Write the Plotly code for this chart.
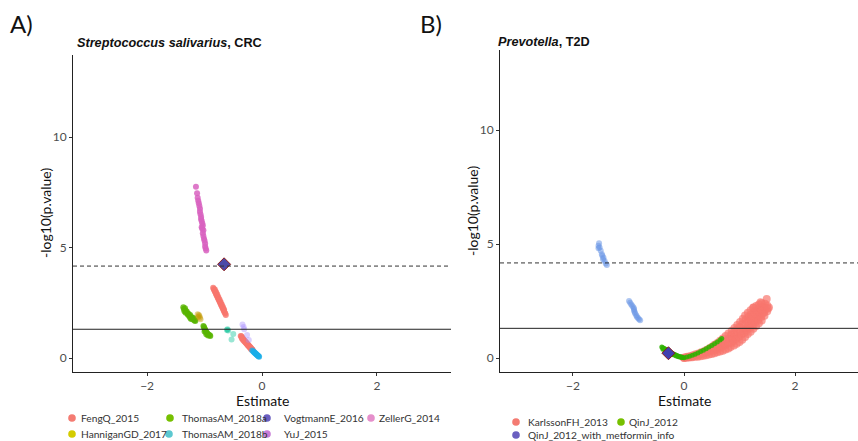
import plotly.graph_objects as go

W, H = 858, 441

# ---------------- DATA: panel A (Streptococcus salivarius, CRC) ----------------
fengq_x = [-0.85, -0.84, -0.83, -0.82, -0.81, -0.80, -0.79, -0.78, -0.77, -0.76, -0.75, -0.74,
           -0.73, -0.72, -0.71, -0.70, -0.69, -0.68, -0.67, -0.66, -0.65, -0.64, -0.63,
           -0.82, -0.80, -0.78, -0.76, -0.74, -0.72, -0.70, -0.68, -0.66,
           -0.37, -0.36, -0.35, -0.34, -0.33, -0.32, -0.31, -0.30, -0.29, -0.28, -0.27,
           -0.26, -0.25, -0.24, -0.23, -0.22, -0.21, -0.20, -0.19, -0.18, -0.17, -0.16,
           -0.35, -0.33, -0.31, -0.29, -0.27, -0.25, -0.23, -0.21, -0.19]
fengq_y = [3.18, 3.12, 3.07, 3.01, 2.96, 2.90, 2.84, 2.79, 2.73, 2.68, 2.62, 2.57,
           2.51, 2.45, 2.40, 2.34, 2.29, 2.23, 2.17, 2.12, 2.06, 2.01, 1.95,
           3.10, 2.99, 2.88, 2.76, 2.65, 2.53, 2.42, 2.31, 2.20,
           1.00, 0.98, 0.94, 0.90, 0.86, 0.83, 0.80, 0.77, 0.74, 0.71, 0.68,
           0.65, 0.62, 0.59, 0.56, 0.53, 0.50, 0.47, 0.44, 0.41, 0.38, 0.36,
           0.88, 0.82, 0.76, 0.70, 0.64, 0.58, 0.52, 0.46, 0.40]

hannigan_x = [-1.12, -1.10, -1.09, -1.08, -1.07, -1.11]
hannigan_y = [1.98, 1.95, 1.90, 1.82, 1.75, 1.86]

thomas_a_x = [-1.37, -1.36, -1.34, -1.33, -1.31, -1.30, -1.28, -1.27, -1.25, -1.23, -1.21, -1.19,
              -1.17, -1.16, -1.33, -1.29, -1.26, -1.22, -1.18, -1.35, -1.24,
              -1.02, -1.01, -1.00, -0.99, -0.98, -0.97, -0.96, -0.95, -0.93, -0.91, -0.90,
              -1.00, -0.97, -0.94]
thomas_a_y = [2.30, 2.22, 2.25, 2.14, 2.10, 2.02, 2.00, 1.93, 1.95, 1.86, 1.82, 1.80,
              1.72, 1.68, 2.05, 1.96, 1.85, 1.76, 1.70, 2.12, 1.78,
              1.45, 1.40, 1.33, 1.28, 1.22, 1.18, 1.14, 1.10, 1.06, 1.03, 1.00,
              1.20, 1.08, 1.02]

thomas_b_x = [-0.61, -0.59, -0.60, -0.50, -0.53]
thomas_b_y = [1.27, 1.24, 1.30, 1.09, 0.84]

vogtmann_x = [-0.17, -0.15, -0.14, -0.13, -0.12, -0.11, -0.10, -0.09, -0.08, -0.07, -0.06, -0.05]
vogtmann_y = [0.34, 0.30, 0.27, 0.25, 0.22, 0.20, 0.17, 0.15, 0.13, 0.10, 0.08, 0.06]

yuj_x = [-0.34, -0.32, -0.31, -0.26, -0.23]
yuj_y = [1.52, 1.40, 1.30, 1.04, 0.81]

zeller_x = [-1.15, -1.13, -1.12, -1.11, -1.10, -1.09, -1.08, -1.08, -1.07, -1.06, -1.06, -1.05,
            -1.04, -1.03, -1.05, -1.04, -1.02, -1.03, -1.02, -1.01, -1.00, -0.99, -0.99, -0.98, -0.97]
zeller_y = [7.75, 7.45, 7.25, 7.12, 7.00, 6.88, 6.75, 6.62, 6.50, 6.38, 6.28, 6.20,
            6.10, 6.00, 5.92, 5.85, 5.78, 5.65, 5.52, 5.40, 5.30, 5.18, 5.05, 4.95, 4.87]

highlight_a_x = [-0.66]
highlight_a_y = [4.24]

# ---------------- DATA: panel B (Prevotella, T2D) ----------------
karlsson_x = [0.00, 0.00, 0.01, 0.05, 0.05, 0.06, 0.10, 0.10, 0.11, 0.15, 0.15, 0.16,
              0.20, 0.20, 0.21, 0.25, 0.25, 0.26, 0.30, 0.30, 0.31, 0.35, 0.35, 0.36,
              0.40, 0.40, 0.41, 0.45, 0.45, 0.46, 0.50, 0.50, 0.51,
              0.55, 0.55, 0.56, 0.55, 0.60, 0.60, 0.61, 0.60, 0.65, 0.65, 0.66, 0.65,
              0.70, 0.70, 0.71, 0.70, 0.75, 0.75, 0.76, 0.75, 0.80, 0.80, 0.81, 0.80,
              0.84, 0.85, 0.86, 0.85, 0.86, 0.90, 0.89, 0.91, 0.90, 0.91,
              0.95, 0.94, 0.96, 0.95, 0.96, 1.00, 0.99, 1.01, 1.00, 1.01,
              1.05, 1.04, 1.06, 1.05, 1.06, 1.10, 1.09, 1.11, 1.10, 1.11, 1.10,
              1.15, 1.14, 1.16, 1.15, 1.16, 1.15, 1.20, 1.19, 1.21, 1.20, 1.21, 1.20,
              1.25, 1.24, 1.26, 1.25, 1.26, 1.25, 1.30, 1.29, 1.31, 1.30, 1.31, 1.30,
              1.35, 1.34, 1.36, 1.35, 1.36, 1.35, 1.40, 1.39, 1.41, 1.40, 1.41, 1.40,
              1.45, 1.44, 1.46, 1.45, 1.46, 1.50, 1.51, 1.50,
              1.49, 1.25, 1.38, 1.53]
karlsson_y = [0.00, 0.01, 0.02, 0.01, 0.03, 0.05, 0.02, 0.05, 0.08, 0.03, 0.07, 0.12,
              0.05, 0.10, 0.16, 0.06, 0.13, 0.20, 0.08, 0.16, 0.25, 0.10, 0.20, 0.30,
              0.12, 0.24, 0.36, 0.15, 0.29, 0.43, 0.18, 0.34, 0.50,
              0.21, 0.33, 0.45, 0.58, 0.25, 0.38, 0.52, 0.66, 0.28, 0.44, 0.60, 0.76,
              0.32, 0.50, 0.68, 0.86, 0.37, 0.57, 0.77, 0.97, 0.42, 0.64, 0.86, 1.08,
              0.48, 0.66, 0.84, 1.02, 1.20, 0.55, 0.74, 0.93, 1.12, 1.32,
              0.62, 0.83, 1.04, 1.25, 1.45, 0.70, 0.92, 1.14, 1.36, 1.58,
              0.80, 1.03, 1.26, 1.49, 1.72, 0.92, 1.11, 1.30, 1.49, 1.68, 1.86,
              1.05, 1.24, 1.42, 1.61, 1.80, 1.98, 1.15, 1.34, 1.53, 1.72, 1.91, 2.10,
              1.28, 1.46, 1.64, 1.84, 2.02, 2.20, 1.40, 1.58, 1.76, 1.93, 2.10, 2.28,
              1.52, 1.69, 1.86, 2.02, 2.19, 2.35, 1.65, 1.80, 1.95, 2.10, 2.25, 2.40,
              1.85, 1.98, 2.11, 2.25, 2.38, 2.05, 2.17, 2.30,
              2.59, 2.22, 2.45, 2.22]

qinj_x = [-0.40, -0.38, -0.36, -0.34, -0.32, -0.30, -0.28, -0.26, -0.24, -0.22, -0.20,
          -0.18, -0.16, -0.14, -0.12, -0.10, -0.08, -0.06, -0.04, -0.02, 0.00,
          -0.38, -0.34, -0.30, -0.26, -0.22, -0.18, -0.14, -0.10, -0.06,
          0.05, 0.10, 0.15, 0.20, 0.25, 0.30, 0.35, 0.40, 0.45, 0.50, 0.55, 0.60, 0.65, 0.68]
qinj_y = [0.48, 0.45, 0.42, 0.39, 0.36, 0.33, 0.30, 0.27, 0.24, 0.21, 0.19,
          0.16, 0.14, 0.12, 0.10, 0.08, 0.06, 0.05, 0.03, 0.02, 0.01,
          0.38, 0.33, 0.28, 0.23, 0.17, 0.13, 0.09, 0.05, 0.03,
          0.04, 0.08, 0.12, 0.17, 0.22, 0.28, 0.34, 0.41, 0.48, 0.55, 0.62, 0.70, 0.79, 0.86]

metformin_x = [-1.53, -1.54, -1.52, -1.54, -1.50, -1.48, -1.47, -1.45, -1.46, -1.43, -1.41, -1.39,
               -0.99, -0.97, -0.95, -0.93, -0.91, -0.90, -0.90, -0.89, -0.88, -0.86, -0.85,
               -0.83, -0.81, -0.79]
metformin_y = [5.03, 4.92, 4.85, 4.81, 4.70, 4.55, 4.48, 4.40, 4.33, 4.25, 4.15, 4.08,
               2.50, 2.42, 2.35, 2.28, 2.22, 2.15, 2.08, 2.02, 1.95, 1.88, 1.81,
               1.75, 1.70, 1.66]

highlight_b_x = [-0.28]
highlight_b_y = [0.21]

# thresholds (-log10 p)
nominal_p_line = 1.301
adjusted_p_line_a = 4.16
adjusted_p_line_b = 4.17

legend_a = ["FengQ_2015", "ThomasAM_2018a", "VogtmannE_2016", "ZellerG_2014",
            "HanniganGD_2017", "ThomasAM_2018b", "YuJ_2015"]
legend_b = ["KarlssonFH_2013", "QinJ_2012", "QinJ_2012_with_metformin_info"]

# ---------------- STYLE ----------------
FONT = "Lato"
TXT = "#333333"
TICK = "#4d4d4d"

fig = go.Figure()

def pts(x, y, color, opacity, xa, ya, size=6, name=""):
    fig.add_trace(go.Scatter(x=x, y=y, mode="markers", name=name, showlegend=False,
                             xaxis=xa, yaxis=ya, hoverinfo="skip",
                             marker=dict(size=size, color=color, opacity=opacity, line=dict(width=0))))

# panel A
pts(thomas_a_x, thomas_a_y, "#58B400", 0.8, "x", "y", name="ThomasAM_2018a")
pts(hannigan_x, hannigan_y, "#C49A00", 0.45, "x", "y", name="HanniganGD_2017")
pts(fengq_x, fengq_y, "#F8766D", 0.8, "x", "y", name="FengQ_2015")
pts(thomas_b_x, thomas_b_y, "#00C094", 0.4, "x", "y", name="ThomasAM_2018b")
pts(yuj_x, yuj_y, "#A58AFF", 0.4, "x", "y", name="YuJ_2015")
pts(vogtmann_x, vogtmann_y, "#1AAEE8", 0.75, "x", "y", name="VogtmannE_2016")
pts(zeller_x, zeller_y, "#D862C0", 0.85, "x", "y", name="ZellerG_2014")
fig.add_trace(go.Scatter(x=highlight_a_x, y=highlight_a_y, mode="markers", showlegend=False,
                         xaxis="x", yaxis="y", hoverinfo="skip",
                         marker=dict(symbol="diamond", size=10, color="#4B4BA8",
                                     line=dict(color="#8B1A1A", width=1))))

# panel B
pts(metformin_x, metformin_y, "#6C98E6", 0.55, "x2", "y2", name="QinJ_2012_with_metformin_info")
pts(karlsson_x, karlsson_y, "#F8766D", 0.7, "x2", "y2", size=8, name="KarlssonFH_2013")
pts(qinj_x, qinj_y, "#2EB200", 0.85, "x2", "y2", size=5, name="QinJ_2012")
fig.add_trace(go.Scatter(x=highlight_b_x, y=highlight_b_y, mode="markers", showlegend=False,
                         xaxis="x2", yaxis="y2", hoverinfo="skip",
                         marker=dict(symbol="diamond", size=10, color="#4040B0",
                                     line=dict(color="#8B1A1A", width=1))))

def px_x(p):
    return p / W

def px_y(p):
    return 1 - p / H

axis_common = dict(showline=True, linecolor="#222222", linewidth=1, ticks="outside",
                   ticklen=3, tickcolor="#333333", showgrid=False, zeroline=False,
                   tickfont=dict(family=FONT, size=12, color=TICK))

fig.update_layout(
    width=W, height=H, margin=dict(l=0, r=0, t=0, b=0),
    paper_bgcolor="white", plot_bgcolor="white", showlegend=False,
    xaxis=dict(domain=[px_x(73), px_x(451)], range=[-3.29, 3.29], anchor="y",
               tickvals=[-2, 0, 2], **axis_common),
    yaxis=dict(domain=[px_y(372), px_y(55)], range=[-0.633, 13.71], anchor="x",
               tickvals=[0, 5, 10], **axis_common),
    xaxis2=dict(domain=[px_x(500), 1.0], range=[-3.315, 3.135], anchor="y2",
                tickvals=[-2, 0, 2], **axis_common),
    yaxis2=dict(domain=[px_y(372), px_y(50)], range=[-0.614, 13.51], anchor="x2",
                tickvals=[0, 5, 10], **axis_common),
)

shapes = []
for xr, yr, dash_y in (("x", "y", adjusted_p_line_a), ("x2", "y2", adjusted_p_line_b)):
    shapes.append(dict(type="line", xref=f"{xr} domain", yref=yr, x0=0, x1=1,
                       y0=nominal_p_line, y1=nominal_p_line, line=dict(color="#222222", width=1)))
    shapes.append(dict(type="line", xref=f"{xr} domain", yref=yr, x0=0, x1=1,
                       y0=dash_y, y1=dash_y, line=dict(color="#333333", width=1, dash="4px,3px")))

annotations = []

def text(x, y, s, size, xanchor="left", angle=0, color=TXT, family=FONT):
    annotations.append(dict(x=px_x(x), y=px_y(y), xref="paper", yref="paper", text=s,
                            showarrow=False, xanchor=xanchor, yanchor="middle", textangle=angle,
                            font=dict(family=family, size=size, color=color)))

text(8, 24, "A)", 24, color="#111111")
text(418, 24, "B)", 24, color="#111111")
text(75, 43, "<b><i>Streptococcus salivarius</i>, CRC</b>", 12.7, color="#111111", family="Liberation Sans")
text(496, 42, "<b><i>Prevotella</i>, T2D</b>", 12.7, color="#111111", family="Liberation Sans")
text(262, 400, "Estimate", 14, xanchor="center", color="#111111")
text(684, 400, "Estimate", 14, xanchor="center", color="#111111")
text(45, 213, "-log10(p.value)", 14, xanchor="center", angle=-90, color="#111111")
text(472, 211, "-log10(p.value)", 14, xanchor="center", angle=-90, color="#111111")

# manual legends
legend_a_colors = ["#F47B72", "#76C000", "#6A5FC0", "#E58FCB", "#D4CC00", "#5CC8D0", "#C77CD6"]
legend_a_pos = [(72, 418, 79), (170, 418, 180), (267, 418, 282), (371, 418, 377),
                (72, 434, 79), (169, 434, 180), (267, 434, 282)]
legend_b_colors = ["#F47B72", "#76C000", "#6A5FC0"]
legend_b_pos = [(516, 422, 526), (621, 422, 627), (516, 435, 526)]

for labels, colors, poss in ((legend_a, legend_a_colors, legend_a_pos),
                             (legend_b, legend_b_colors, legend_b_pos)):
    for lab, col, (cx, cy, tx) in zip(labels, colors, poss):
        r = 3.8
        shapes.append(dict(type="circle", xref="paper", yref="paper",
                           x0=px_x(cx - r), x1=px_x(cx + r), y0=px_y(cy + r), y1=px_y(cy - r),
                           fillcolor=col, line=dict(width=0)))
        text(tx, cy, lab, 10.2)

fig.update_layout(shapes=shapes, annotations=annotations)
fig.write_html("out.html", config={"displayModeBar": False},
               post_script="document.body.style.margin='0';document.body.style.padding='0';")
